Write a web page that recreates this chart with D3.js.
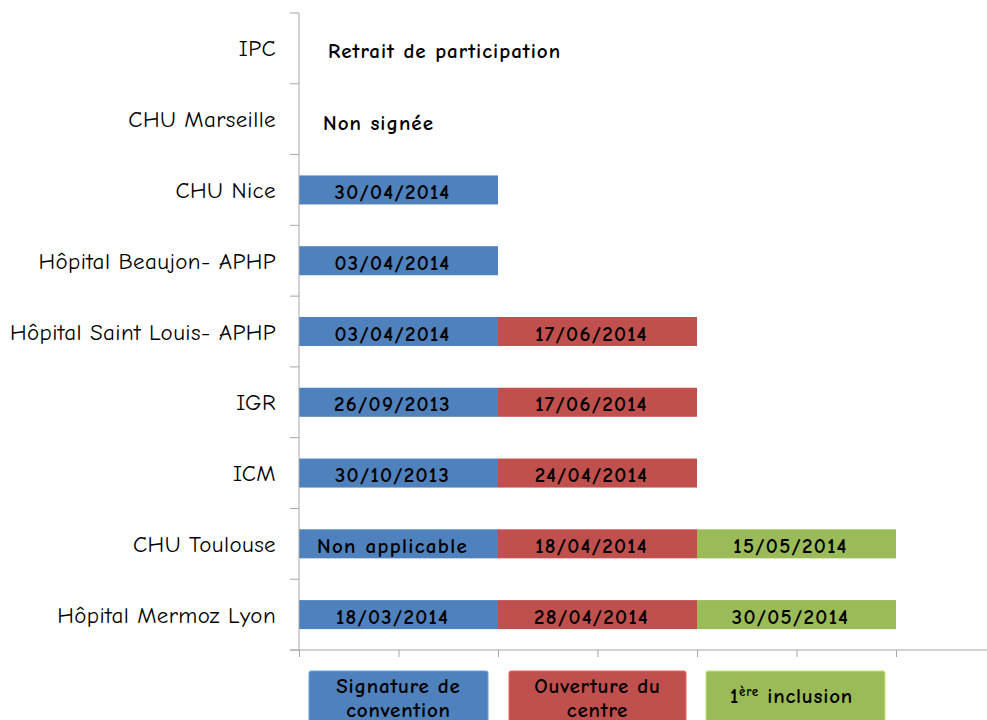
<!DOCTYPE html>
<html><head><meta charset="utf-8">
<script src="https://cdn.jsdelivr.net/npm/d3@7"></script>
<style>body{margin:0;background:#fff;overflow:hidden}svg{display:block}</style>
</head><body>
<script>
const categories = ["IPC","CHU Marseille","CHU Nice","Hôpital Beaujon- APHP","Hôpital Saint Louis- APHP","IGR","ICM","CHU Toulouse","Hôpital Mermoz Lyon"];
const seriesNames = ["Signature de convention","Ouverture du centre","1ère inclusion"];
const signatureVals = [0,0,2,2,2,2,2,2,2];
const ouvertureVals = [0,0,0,0,2,2,2,2,2];
const inclusionVals = [0,0,0,0,0,0,0,2,2];
const signatureLabels = ["","","30/04/2014","03/04/2014","03/04/2014","26/09/2013","30/10/2013","Non applicable","18/03/2014"];
const ouvertureLabels = ["","","","","17/06/2014","17/06/2014","24/04/2014","18/04/2014","28/04/2014"];
const inclusionLabels = ["","","","","","","","15/05/2014","30/05/2014"];
const notes = ["Retrait de participation","Non signée","","","","","","",""];
const xTicks = [0,1,2,3,4,5,6,7];
const colors = ["#4F81BD","#C0504D","#9BBB59"];

const W=987,H=720;
const FONT = "'Comic Sans MS','Comic Neue','Open Sans',sans-serif";
const svg=d3.select("body").append("svg").attr("width",W).attr("height",H).style("font-family",FONT);

const x=d3.scaleLinear().domain([0,7]).range([299,995.5]);
const y=d3.scaleBand().domain(categories).range([13,650]).paddingInner(0.59).paddingOuter(0.295);
const yRow=d3.scaleBand().domain(categories).range([13,650]);

const vals=[signatureVals,ouvertureVals,inclusionVals];
const labs=[signatureLabels,ouvertureLabels,inclusionLabels];

// bars
vals.forEach((arr,s)=>{
  const g=svg.append("g");
  categories.forEach((c,i)=>{
    if(!arr[i]) return;
    let start=0; for(let k=0;k<s;k++) start+=vals[k][i];
    g.append("rect").attr("x",x(start)).attr("y",y(c)).attr("width",x(start+arr[i])-x(start)).attr("height",y.bandwidth()).attr("fill",colors[s]);
    g.append("text").attr("x",(x(start)+x(start+arr[i]))/2-6).attr("y",y(c)+y.bandwidth()/2+9)
      .attr("text-anchor","middle").attr("font-weight","bold").attr("font-size",21).attr("letter-spacing",1.3).attr("fill","#000").text(labs[s][i]);
  });
});

// notes
categories.forEach((c,i)=>{
  if(!notes[i]) return;
  svg.append("text").attr("x",i==0?328:323).attr("y",yRow(c)+yRow.bandwidth()/2+(i==0?9.5:11))
    .attr("font-weight","bold").attr("font-size",21).attr("letter-spacing",1).text(notes[i]);
});

// y axis
const gy=svg.append("g").attr("transform","translate(299,0)");
gy.append("line").attr("x1",0).attr("x2",0).attr("y1",13).attr("y2",650).attr("stroke","#a6a6a6");
const bounds=categories.map(c=>yRow(c)).concat([650]);
gy.selectAll("line.t").data(bounds).join("line").attr("class","t").attr("x1",-9).attr("x2",0).attr("y1",d=>d).attr("y2",d=>d).attr("stroke","#a6a6a6");
gy.selectAll("text").data(categories).join("text").attr("x",-23).attr("y",d=>yRow(d)+yRow.bandwidth()/2+8)
  .attr("text-anchor","end").attr("font-size",23).attr("letter-spacing",0.4).attr("fill","#000").text(d=>d);

// x axis
const xAxis=d3.axisBottom(x).tickValues(xTicks).tickSize(7).tickFormat("").tickSizeOuter(0);
const gx=svg.append("g").attr("transform","translate(0,650)").call(xAxis);
gx.select(".domain").attr("stroke","#a6a6a6").attr("d","M290,0H1000");
gx.selectAll(".tick line").attr("stroke","#a6a6a6");

// legend
const legendX=[309,509,706], legendW=[179,177,179];
const lg=svg.append("g");
seriesNames.forEach((n,i)=>{
  lg.append("rect").attr("x",legendX[i]).attr("y",671).attr("width",legendW[i]).attr("height",60).attr("rx",2)
    .attr("fill",colors[i]).attr("stroke",d3.color(colors[i]).brighter(0.6)).attr("stroke-width",1);
  const cx=legendX[i]+legendW[i]/2;
  const t=lg.append("text").attr("text-anchor","middle").attr("font-weight","bold").attr("font-size",21).attr("letter-spacing",0.8);
  if(i==0){
    t.append("tspan").attr("x",cx).attr("y",693).text("Signature de");
    t.append("tspan").attr("x",cx).attr("y",717).text("convention");
  } else if(i==1){
    t.append("tspan").attr("x",cx).attr("y",693).text("Ouverture du");
    t.append("tspan").attr("x",cx).attr("y",717).text("centre");
  } else {
    t.attr("y",703);
    t.append("tspan").attr("x",cx-4).text("1");
    t.append("tspan").attr("font-size",13).attr("dy",-7).text("ère");
    t.append("tspan").attr("dy",7).text(" inclusion");
  }
});
</script>
</body></html>
